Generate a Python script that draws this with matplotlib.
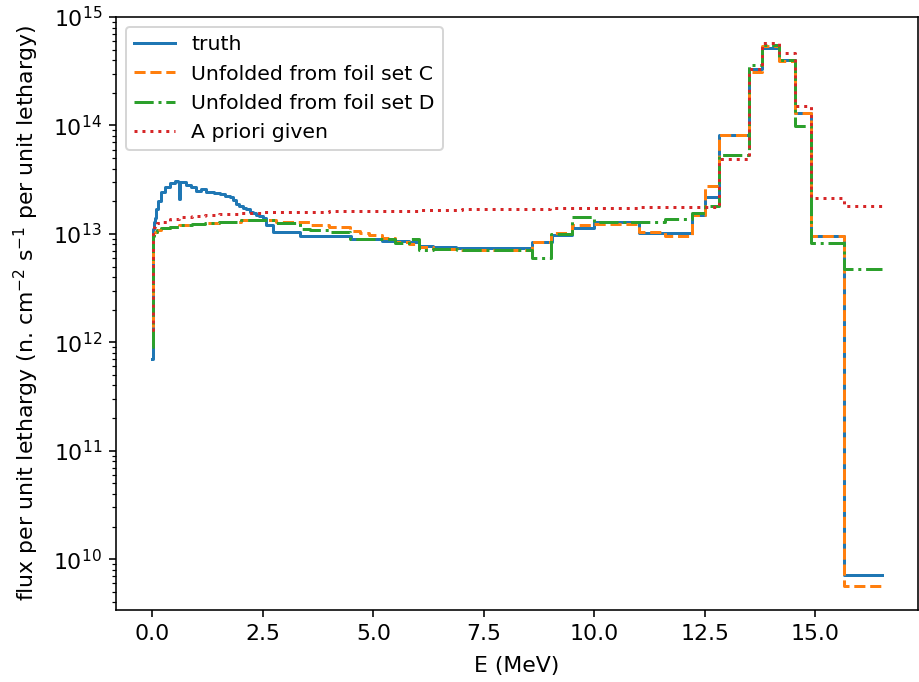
import matplotlib
matplotlib.use("Agg")
import matplotlib.pyplot as plt
import numpy as np

# truth spectrum (fine group structure)
truth_edges = [0, 0.002, 0.01, 0.03, 0.05, 0.08, 0.13, 0.2, 0.28, 0.39, 0.5, 0.58, 0.6,
               0.63, 0.65, 0.77, 0.88, 0.99, 1.1, 1.22, 1.4, 1.52, 1.65, 1.75, 1.82, 1.9,
               1.97, 2.05, 2.12, 2.2, 2.27, 2.35, 2.42, 2.5, 2.58, 2.73, 3.33, 4.5, 5.2,
               5.8, 6.04, 6.35, 6.87, 8.6, 9.05, 9.5, 10.0, 11.0, 12.2, 12.5, 12.82, 13.5,
               13.8, 14.18, 14.55, 14.91, 15.66, 16.5]
truth_flux = [7e11, 9.5e12, 1.1e13, 1.3e13, 1.4e13, 1.7e13, 2.0e13, 2.45e13, 2.7e13,
              2.95e13, 3.1e13, 3.0e13, 2.1e13, 3.0e13, 3.0e13, 2.8e13, 2.7e13, 2.5e13,
              2.6e13, 2.45e13, 2.4e13, 2.35e13, 2.25e13, 2.2e13, 2.05e13, 1.9e13, 1.8e13,
              1.75e13, 1.7e13, 1.6e13, 1.55e13, 1.5e13, 1.45e13, 1.4e13, 1.2e13, 1.04e13,
              9.6e12, 8.9e12, 8.6e12, 8.4e12, 7.8e12, 7.5e12, 7.4e12, 8.5e12, 9.8e12,
              1.13e13, 1.28e13, 1.02e13, 1.5e13, 2.2e13, 8.1e13, 3.3e14, 5.2e14, 4.0e14,
              1.3e14, 9.5e12, 7.2e9]

# unfolded spectra (coarse group structure)
unf_edges = [0, 0.002, 0.01, 0.03, 0.06, 0.1, 0.2, 0.4, 0.6, 0.9, 1.2, 1.5, 2.0, 2.5,
             2.8, 3.33, 3.56, 4.0, 4.46, 4.7, 4.9, 5.2, 5.5, 5.8, 6.04, 6.35, 6.9, 8.6,
             9.03, 9.5, 10.0, 11.0, 11.6, 12.2, 12.5, 12.82, 13.5, 13.8, 14.18, 14.55,
             14.91, 15.66, 16.5]
flux_C = [1.0e12, 8.5e12, 9.5e12, 1.0e13, 1.05e13, 1.08e13, 1.13e13, 1.17e13, 1.2e13,
          1.23e13, 1.26e13, 1.29e13, 1.33e13, 1.35e13, 1.3e13, 1.29e13, 1.22e13, 1.15e13,
          1.07e13, 1.03e13, 9.8e12, 9.2e12, 8.5e12, 8.1e12, 7.6e12, 7.3e12, 7.1e12,
          8.5e12, 1.03e13, 1.2e13, 1.24e13, 1.05e13, 9.6e12, 1.5e13, 2.75e13, 8.1e13,
          3.1e14, 5.4e14, 3.9e14, 1.3e14, 9.6e12, 5.6e9]
flux_D = [9e11, 8.5e12, 9.5e12, 1.0e13, 1.05e13, 1.08e13, 1.13e13, 1.17e13, 1.2e13,
          1.23e13, 1.26e13, 1.29e13, 1.33e13, 1.35e13, 1.25e13, 1.12e13, 1.08e13, 1.05e13,
          8.9e12, 8.9e12, 8.9e12, 9.0e12, 8.3e12, 9.0e12, 7.1e12, 7.2e12, 7.1e12,
          6.0e12, 1.0e13, 1.43e13, 1.3e13, 1.3e13, 1.38e13, 1.55e13, 1.8e13, 5.3e13,
          3.6e14, 5.5e14, 4.0e14, 9.8e13, 8.2e12, 4.7e12]

# a priori spectrum
prior_edges = [0, 0.002, 0.01, 0.03, 0.06, 0.1, 0.2, 0.4, 0.6, 0.9, 1.2, 1.5, 2.0, 2.5,
               3.0, 4.0, 5.0, 6.0, 7.0, 8.0, 9.0, 10.0, 11.0, 12.0, 12.82, 13.5, 13.8,
               14.18, 14.55, 14.91, 15.66, 16.5]
prior_flux = [1.3e12, 1.0e13, 1.1e13, 1.15e13, 1.2e13, 1.25e13, 1.3e13, 1.38e13, 1.42e13,
              1.46e13, 1.5e13, 1.53e13, 1.56e13, 1.58e13, 1.6e13, 1.62e13, 1.64e13,
              1.66e13, 1.68e13, 1.7e13, 1.72e13, 1.74e13, 1.76e13, 1.78e13, 4.9e13,
              3.3e14, 5.8e14, 4.7e14, 1.5e14, 2.15e13, 1.8e13]


def step_xy(edges, vals):
    return np.array(edges), np.append(vals, vals[-1])


fig = plt.figure(figsize=(919 / 144, 682 / 144), dpi=144)
ax = fig.add_axes([0.1262, 0.1056, 0.8727, 0.8694])

x, y = step_xy(truth_edges, truth_flux)
ax.step(x, y, where='post', color='C0', label='truth')
x, y = step_xy(unf_edges, flux_C)
ax.step(x, y, where='post', color='C1', linestyle='--', label='Unfolded from foil set C')
x, y = step_xy(unf_edges, flux_D)
ax.step(x, y, where='post', color='C2', linestyle='-.', label='Unfolded from foil set D')
x, y = step_xy(prior_edges, prior_flux)
ax.step(x, y, where='post', color='C3', linestyle=':', label='A priori given')

ax.set_yscale('log')
ax.set_ylim(3.4e9, 1.0e15)
ax.tick_params(labelsize=11)
ax.set_xlabel('E (MeV)', fontsize=11, labelpad=6)
ax.set_ylabel(r'flux per unit lethargy (n. cm$^{-2}$ s$^{-1}$ per unit lethargy)',
              fontsize=11, labelpad=6)
ax.legend(loc='upper left', fontsize=10.2)

plt.savefig('out.png', dpi=144)
plt.close()
